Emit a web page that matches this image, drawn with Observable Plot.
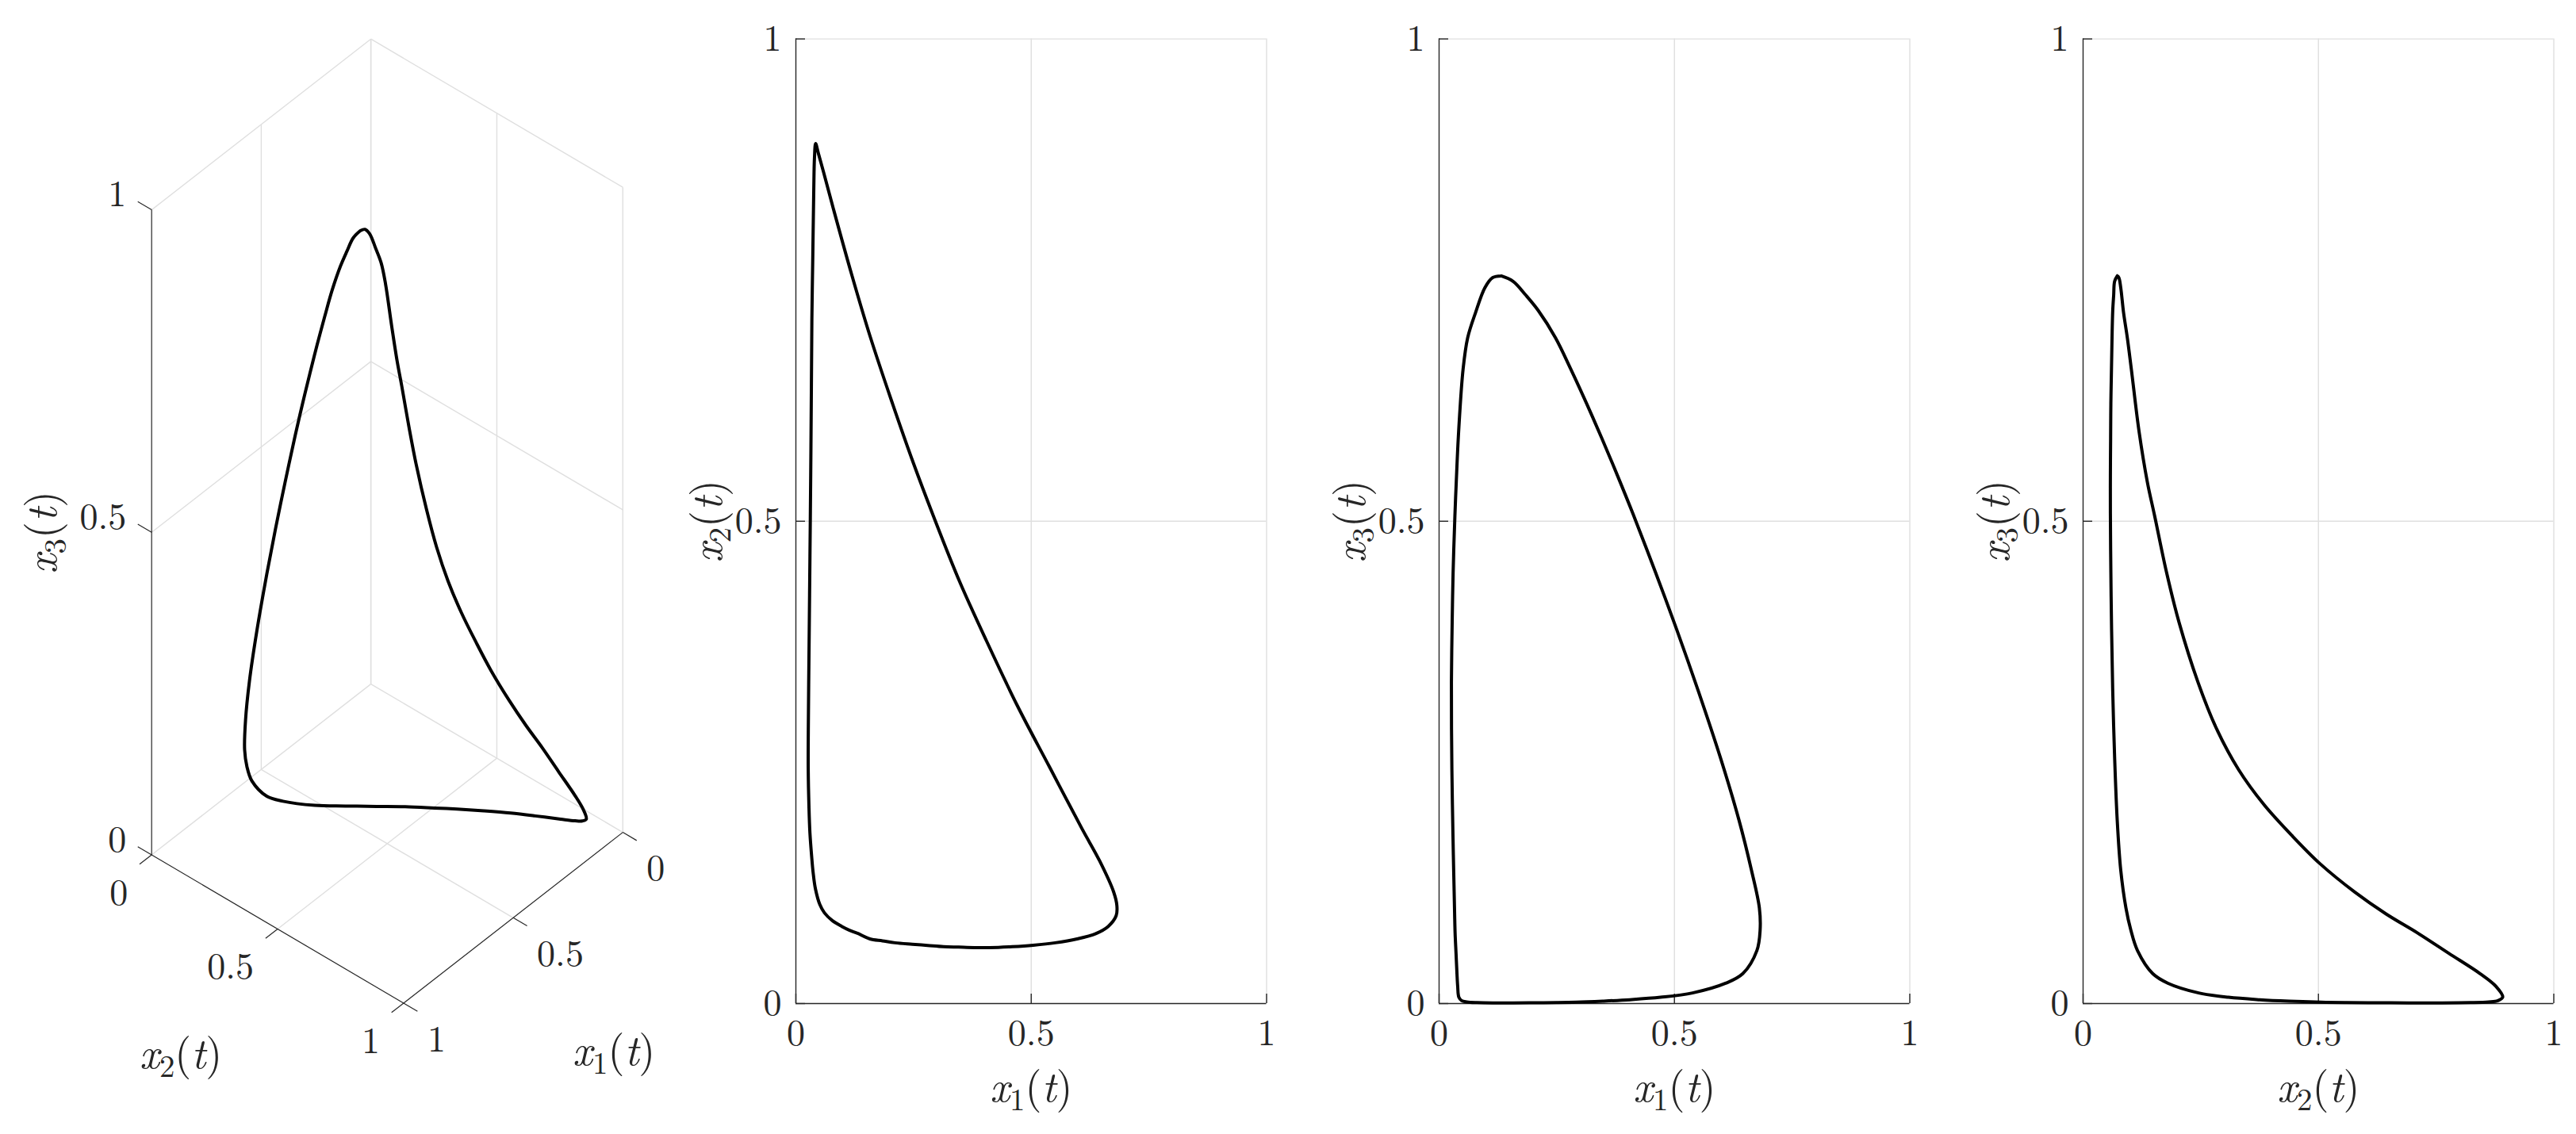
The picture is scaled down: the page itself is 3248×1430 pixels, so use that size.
<!DOCTYPE html>
<html><head><meta charset="utf-8">
<script src="https://cdn.jsdelivr.net/npm/d3@7"></script>
<script src="https://cdn.jsdelivr.net/npm/@observablehq/plot@0.6"></script>
<style>
html,body{margin:0;padding:0;background:#fff;}
#fig{position:relative;width:3248px;height:1430px;overflow:hidden;background:#fff;}
#fig > svg{position:absolute;top:0;background:transparent;max-width:none;}
#fig svg, #fig svg text, #fig svg tspan{font-family:'Latin Modern Roman','Liberation Serif',serif !important;}
</style></head><body><div id="fig"></div>
<script>
// ---- data: one closed limit cycle (x1, x2, x3), read from the projections ----
const x1 = [0.132,0.114,0.0974,0.0774,0.0607,0.051,0.0415,0.0365,0.0336,0.0298,0.0278,0.0262,0.0264,0.0272,0.0283,0.0295,0.0307,0.032,0.033,0.034,0.036,0.038,0.0395,0.042,
  0.048,0.0589,0.0802,0.1188,0.1575,0.203,0.25,0.292,0.3474,0.4054,0.4706,0.5385,0.6086,0.6452,0.6752,0.682,
  0.6804,0.6636,0.6371,0.5974,0.551,0.5042,0.4598,0.4115,0.3791,0.3456,0.3134,0.2797,0.2473,0.2106,0.184,0.1573];
const x2 = [0.0727,0.076,0.080,0.086,0.094,0.1025,0.119,0.1365,0.152,0.1773,0.2039,0.244,0.2839,0.3306,0.3838,0.4438,0.5038,0.5771,0.6436,0.7102,0.7769,0.8435,0.8768,0.8915,
  0.881,0.8617,0.823,0.7553,0.692,0.6252,0.5598,0.5056,0.438,0.3755,0.3087,0.2456,0.1805,0.148,0.1155,0.1015,
  0.091,0.080,0.0725,0.067,0.063,0.0605,0.059,0.058,0.058,0.0585,0.059,0.0603,0.0615,0.063,0.065,0.067];
const x3 = [0.7543,0.7526,0.7422,0.7162,0.6902,0.6577,0.5927,0.5407,0.5056,0.447,0.3951,0.3333,0.2845,0.2423,0.2065,0.1741,0.1448,0.1156,0.0929,0.0733,0.0521,0.031,0.018,0.0066,
  0.003,0.0017,0.001,0.0007,0.0007,0.0008,0.001,0.0014,0.0025,0.004,0.0065,0.011,0.021,0.031,0.055,0.076,
  0.0992,0.1383,0.1902,0.2553,0.3236,0.3886,0.447,0.5082,0.5472,0.5862,0.622,0.6578,0.6902,0.7185,0.7345,0.7487];
const ticks = [0, 0.5, 1];
const tickLabels = ["0", "0.5", "1"];
const axisNames = ["x_1(t)", "x_2(t)", "x_3(t)"];

// ---- styling ----
const FONT = "'Latin Modern Roman', 'Liberation Serif', serif";
const TICK_FS = 46, LABEL_FS = 54;
const INK = "#262626", GRID = "#dfdfdf";

const cycle = x1.map((v, i) => ({x1: v, x2: x2[i], x3: x3[i]}));
cycle.push(cycle[0]);
const fmt = d => tickLabels[ticks.indexOf(d)];
const fig = document.getElementById("fig");

function mathify(svg) {
  svg.querySelectorAll("text").forEach(t => {
    t.setAttribute("font-family", FONT);
    const m = /^x_(\d)\(t\)$/.exec(t.textContent);
    if (!m) return;
    const fs = LABEL_FS;
    t.textContent = "";
    const add = (s, attrs) => {
      const ts = document.createElementNS("http://www.w3.org/2000/svg", "tspan");
      ts.textContent = s;
      for (const k in attrs) ts.setAttribute(k, attrs[k]);
      t.appendChild(ts);
    };
    add("x", {"font-style": "italic"});
    add(m[1], {"font-size": fs * 0.72, dy: fs * 0.21});
    add("(", {dy: -fs * 0.21});
    add("t", {"font-style": "italic"});
    add(")", {});
  });
}

// ---- 2-D projections ----
function panel2D(xKey, yKey, xLabel, yLabel, left) {
  const W = 800, H = 1430, mL = 180, mT = 48.6, iw = 593.5, ih = 1216.4;
  const mR = W - mL - iw, mB = H - mT - ih;
  const tkx = 12 / ih, tky = 12 / iw;
  const svg = Plot.plot({
    width: W, height: H, marginLeft: mL, marginRight: mR, marginTop: mT, marginBottom: mB,
    style: {fontFamily: FONT, fontSize: TICK_FS + "px", color: INK, background: "transparent", overflow: "visible"},
    x: {domain: [0, 1], label: null},
    y: {domain: [0, 1], label: null},
    marks: [
      Plot.gridX(ticks.slice(1), {stroke: GRID, strokeOpacity: 1, strokeWidth: 1.4}),
      Plot.gridY(ticks.slice(1), {stroke: GRID, strokeOpacity: 1, strokeWidth: 1.4}),
      Plot.ruleX([0], {stroke: INK, strokeWidth: 1.4}),
      Plot.ruleY([0], {stroke: INK, strokeWidth: 1.4}),
      Plot.ruleX(ticks, {x: d => d, y1: 0, y2: tkx, stroke: INK, strokeWidth: 1.4}),
      Plot.ruleY(ticks, {y: d => d, x1: 0, x2: tky, stroke: INK, strokeWidth: 1.4}),
      Plot.axisX(ticks, {tickSize: 0, tickPadding: 20, tickFormat: fmt, label: null, fontSize: TICK_FS}),
      Plot.axisY(ticks, {tickSize: 0, tickPadding: 18, tickFormat: fmt, label: null, fontSize: TICK_FS}),
      Plot.line(cycle, {x: xKey, y: yKey, stroke: "#000", strokeWidth: 4, curve: "catmull-rom"}),
      Plot.text([xLabel], {x: 0.5, y: 0, dy: 106, text: d => d, fontSize: LABEL_FS}),
      Plot.text([yLabel], {x: 0, y: 0.5, dx: -111, rotate: -90, text: d => d, fontSize: LABEL_FS})
    ]
  });
  svg.style.left = (left - mL) + "px";
  mathify(svg);
  fig.appendChild(svg);
}

// ---- 3-D view (orthographic projection of the unit box) ----
const view = {ox: 467.1, oy: 862.1, e1: [-276.4, 215.4], e2: [317.7, 187.0], e3: [0, -813.4]};
const proj = (a, b, c) => [
  view.ox + a * view.e1[0] + b * view.e2[0] + c * view.e3[0],
  view.oy + a * view.e1[1] + b * view.e2[1] + c * view.e3[1]
];
function seg(p, q) { const A = proj(...p), B = proj(...q); return {xa: A[0], ya: A[1], xb: B[0], yb: B[1]}; }

function panel3D() {
  const grid = [];
  for (const v of ticks.slice(0, 2)) {
    grid.push(seg([v, 0, 0], [v, 1, 0]));
    grid.push(seg([0, v, 0], [1, v, 0]));
    grid.push(seg([v, 0, 0], [v, 0, 1]));
  }
  for (const v of ticks) grid.push(seg([0, v, 0], [0, v, 1]));
  for (const z of ticks.slice(1)) {
    grid.push(seg([0, 0, z], [1, 0, z]));
    grid.push(seg([0, 0, z], [0, 1, z]));
  }
  const axes = [seg([1, 0, 0], [1, 1, 0]), seg([0, 1, 0], [1, 1, 0]), seg([1, 0, 0], [1, 0, 1])];
  const tl = 0.055;
  const tks = [];
  for (const t of ticks) {
    tks.push(seg([1, 0, t], [1, -tl, t]));
    tks.push(seg([1, t, 0], [1 + tl, t, 0]));
    tks.push(seg([t, 1, 0], [t, 1 + tl, 0]));
  }
  const zl = ticks.map((t, i) => ({p: proj(1, 0, t), s: tickLabels[i]}));
  const x2l = ticks.map((t, i) => ({p: proj(1, t, 0), s: tickLabels[i]}));
  const x1l = ticks.map((t, i) => ({p: proj(t, 1, 0), s: tickLabels[i]}));
  const curve = cycle.map(d => proj(d.x1, d.x2, d.x3));
  const W = 840, H = 1430;
  const svg = Plot.plot({
    width: W, height: H, margin: 0,
    style: {fontFamily: FONT, fontSize: TICK_FS + "px", color: INK, background: "transparent", overflow: "visible"},
    x: {domain: [0, W], range: [0, W], axis: null},
    y: {domain: [0, H], range: [0, H], axis: null},
    marks: [
      Plot.link(grid, {x1: "xa", y1: "ya", x2: "xb", y2: "yb", stroke: GRID, strokeWidth: 1.4}),
      Plot.link(axes, {x1: "xa", y1: "ya", x2: "xb", y2: "yb", stroke: INK, strokeWidth: 1.2}),
      Plot.link(tks, {x1: "xa", y1: "ya", x2: "xb", y2: "yb", stroke: INK, strokeWidth: 1.2}),
      Plot.text(zl, {x: d => d.p[0], y: d => d.p[1], text: "s", dx: -32, dy: -19, textAnchor: "end", fontSize: TICK_FS}),
      Plot.text(x2l, {x: d => d.p[0], y: d => d.p[1], text: "s", dx: -30, dy: 48, textAnchor: "end", fontSize: TICK_FS}),
      Plot.text(x1l, {x: d => d.p[0], y: d => d.p[1], text: "s", dx: 30, dy: 46, textAnchor: "start", fontSize: TICK_FS}),
      Plot.line(curve, {x: d => d[0], y: d => d[1], stroke: "#000", strokeWidth: 4, curve: "catmull-rom"}),
      Plot.text([{p: proj(1, 0, 0.5), s: axisNames[2]}], {x: d => d.p[0], y: d => d.p[1], text: "s", dx: -137, rotate: -90, fontSize: LABEL_FS}),
      Plot.text([{p: proj(1, 0.5, 0), s: axisNames[1]}], {x: d => d.p[0], y: d => d.p[1], text: "s", dx: -122, dy: 158, fontSize: LABEL_FS}),
      Plot.text([{p: proj(0.5, 1, 0), s: axisNames[0]}], {x: d => d.p[0], y: d => d.p[1], text: "s", dx: 127, dy: 168, fontSize: LABEL_FS})
    ]
  });
  svg.style.left = "0px";
  mathify(svg);
  fig.appendChild(svg);
}

panel3D();
panel2D("x1", "x2", axisNames[0], axisNames[1], 1002.5);
panel2D("x1", "x3", axisNames[0], axisNames[2], 1813.5);
panel2D("x2", "x3", axisNames[1], axisNames[2], 2625.5);
</script>
</body></html>
